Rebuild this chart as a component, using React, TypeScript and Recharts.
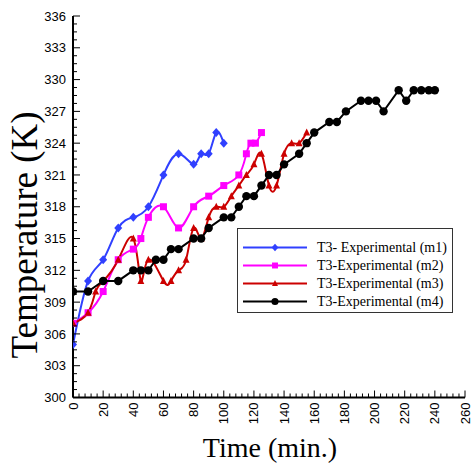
import React from 'react';
import { LineChart, Line, XAxis, YAxis, Legend } from 'recharts';

const m1Time = [0, 10, 20, 30, 40, 50, 60, 70, 80, 85, 90, 95, 100];
const m1Temp = [305, 311, 313, 316, 317, 318, 321, 323, 322, 323, 323, 325, 324];
const m2Time = [0, 10, 20, 30, 40, 45, 50, 60, 70, 80, 90, 100, 110, 115, 118, 121, 125];
const m2Temp = [307, 308, 310, 313, 314, 315, 317, 318, 316, 318, 319, 320, 321, 323, 324, 324, 325];
const m3Time = [0, 10, 15, 20, 30, 40, 45, 50, 60, 65, 70, 75, 80, 85, 90, 95, 100, 105, 110, 115, 120, 125, 130, 135, 140, 145, 150, 155];
const m3Temp = [307, 308, 310, 311, 313, 315, 311, 313, 311, 311, 312, 313, 316, 315, 317, 318, 318, 319, 320, 321, 322, 323, 320, 320, 323, 324, 324, 325];
const m4Time = [0, 10, 20, 30, 40, 45, 50, 55, 60, 65, 70, 80, 85, 90, 100, 105, 110, 115, 120, 125, 130, 135, 140, 150, 155, 160, 170, 175, 181, 191, 196, 201, 206, 216, 221, 226, 231, 236, 240];
const m4Temp = [310, 310, 311, 311, 312, 312, 312, 313, 313, 314, 314, 315, 315, 316, 317, 317, 318, 319, 319, 320, 321, 321, 322, 323, 324, 325, 326, 326, 327, 328, 328, 328, 327, 329, 328, 329, 329, 329, 329];

const seriesNames = ['T3- Experimental (m1)', 'T3-Experimental (m2)', 'T3-Experimental (m3)', 'T3-Experimental (m4)'];
const seriesColors = ['#3040ff', '#ff00ff', '#cc0000', '#000000'];

const xMajorTicks = [0, 20, 40, 60, 80, 100, 120, 140, 160, 180, 200, 220, 240, 260];
const yMajorTicks = [300, 303, 306, 309, 312, 315, 318, 321, 324, 327, 330, 333, 336];
const xAllTicks = Array.from({ length: 66 }, (_, i) => i * 4);
const yAllTicks = Array.from({ length: 49 }, (_, i) => 300 + i * 0.75);

const toData = (t: number[], v: number[]) => t.map((x, i) => ({ t: x, v: v[i] }));
const m1Data = toData(m1Time, m1Temp);
const m2Data = toData(m2Time, m2Temp);
const m3Data = toData(m3Time, m3Temp);
const m4Data = toData(m4Time, m4Temp);

const SANS = '"Liberation Sans", Arial, sans-serif';
const SERIF = '"Liberation Serif", "Times New Roman", serif';

function markerPath(kind: number, cx: number, cy: number, s = 1) {
  if (kind === 0) return <path d={`M${cx},${cy - 4.5 * s}L${cx + 4 * s},${cy}L${cx},${cy + 4.5 * s}L${cx - 4 * s},${cy}Z`} fill={seriesColors[0]} />;
  if (kind === 1) return <rect x={cx - 3.5 * s} y={cy - 3.5 * s} width={7 * s} height={7 * s} fill={seriesColors[1]} />;
  if (kind === 2) return <path d={`M${cx},${cy - 4 * s}L${cx + 3.5 * s},${cy + 3 * s}L${cx - 3.5 * s},${cy + 3 * s}Z`} fill={seriesColors[2]} />;
  return <circle cx={cx} cy={cy} r={4.2 * s} fill={seriesColors[3]} />;
}

const makeDot = (kind: number) => (props: any) => {
  const { cx, cy, index } = props;
  if (cx == null || cy == null) return <g key={`e${kind}-${index}`} />;
  return <g key={`m${kind}-${index}`}>{markerPath(kind, cx, cy)}</g>;
};

const XTick = (props: any) => {
  const { x, y, payload } = props;
  const v = payload.value;
  const major = xMajorTicks.includes(v);
  return (
    <g>
      <line x1={x} x2={x} y1={y} y2={y - (major ? 7 : 4)} stroke="#000" strokeWidth={1} />
      {major && (
        <text x={x} y={y + 5} transform={`rotate(-90, ${x}, ${y + 5})`} textAnchor="end" dy="0.35em"
          fontFamily={SANS} fontSize={13} fill="#000">{v}</text>
      )}
    </g>
  );
};

const YTick = (props: any) => {
  const { x, y, payload } = props;
  const v = payload.value;
  const major = yMajorTicks.includes(v);
  return (
    <g>
      <line x1={x} x2={x + (major ? 7 : 4)} y1={y} y2={y} stroke="#000" strokeWidth={1} />
      {major && (
        <text x={x - 7} y={y} textAnchor="end" dy="0.36em" fontFamily={SANS} fontSize={13} fill="#000">{v}</text>
      )}
    </g>
  );
};

const LegendBox = () => {
  const rows = [19.5, 37.5, 55.5, 73.5];
  return (
    <div style={{ width: 216, height: 85, border: '1px solid #333', boxSizing: 'border-box', background: '#fff' }}>
      <svg width={214} height={83} style={{ display: 'block' }}>
        {rows.map((ry, i) => (
          <g key={i}>
            <line x1={5} x2={69} y1={ry - 1} y2={ry - 1} stroke={seriesColors[i]} strokeWidth={2} />
            {markerPath(i, 37, ry - 1, 0.85)}
            <text x={79} y={ry - 1} dy="0.33em" fontFamily={SERIF} fontSize={14} fill="#000">{seriesNames[i]}</text>
          </g>
        ))}
      </svg>
    </div>
  );
};

export default function App() {
  return (
    <div style={{ position: 'absolute', left: 0, top: 0, width: 471, height: 466, background: '#fff' }}>
      <LineChart width={471} height={466} margin={{ top: 16, right: 6, left: 0, bottom: 0 }}>
        <XAxis
          dataKey="t"
          type="number"
          domain={[0, 260]}
          ticks={xAllTicks}
          interval={0}
          height={68.5}
          tickSize={0}
          tickMargin={0}
          tickLine={false}
          axisLine={{ stroke: '#000', strokeWidth: 2 }}
          tick={<XTick />}
          allowDataOverflow
          label={() => (
            <text x={270} y={457} textAnchor="middle" fontFamily={SERIF} fontSize={28} fill="#000">Time (min.)</text>
          )}
        />
        <YAxis
          type="number"
          domain={[300, 336]}
          ticks={yAllTicks}
          interval={0}
          width={73}
          tickSize={0}
          tickMargin={0}
          tickLine={false}
          axisLine={{ stroke: '#000', strokeWidth: 2 }}
          tick={<YTick />}
          allowDataOverflow
          label={() => (
            <text x={24.5} y={235} transform="rotate(-90, 24.5, 235)" textAnchor="middle" dy="0.34em"
              fontFamily={SERIF} fontSize={37} fill="#000">Temperature (K)</text>
          )}
        />
        <Legend
          layout="vertical"
          align="center"
          verticalAlign="middle"
          wrapperStyle={{ position: 'absolute', left: 237, top: 228, width: 216, height: 85 }}
          content={() => <LegendBox />}
        />
        <Line data={m1Data} dataKey="v" name={seriesNames[0]} type="natural" stroke={seriesColors[0]} strokeWidth={2} dot={makeDot(0)} activeDot={false} isAnimationActive={false} />
        <Line data={m2Data} dataKey="v" name={seriesNames[1]} type="natural" stroke={seriesColors[1]} strokeWidth={2} dot={makeDot(1)} activeDot={false} isAnimationActive={false} />
        <Line data={m3Data} dataKey="v" name={seriesNames[2]} type="natural" stroke={seriesColors[2]} strokeWidth={2} dot={makeDot(2)} activeDot={false} isAnimationActive={false} />
        <Line data={m4Data} dataKey="v" name={seriesNames[3]} type="linear" stroke={seriesColors[3]} strokeWidth={2} dot={makeDot(3)} activeDot={false} isAnimationActive={false} />
      </LineChart>
    </div>
  );
}
